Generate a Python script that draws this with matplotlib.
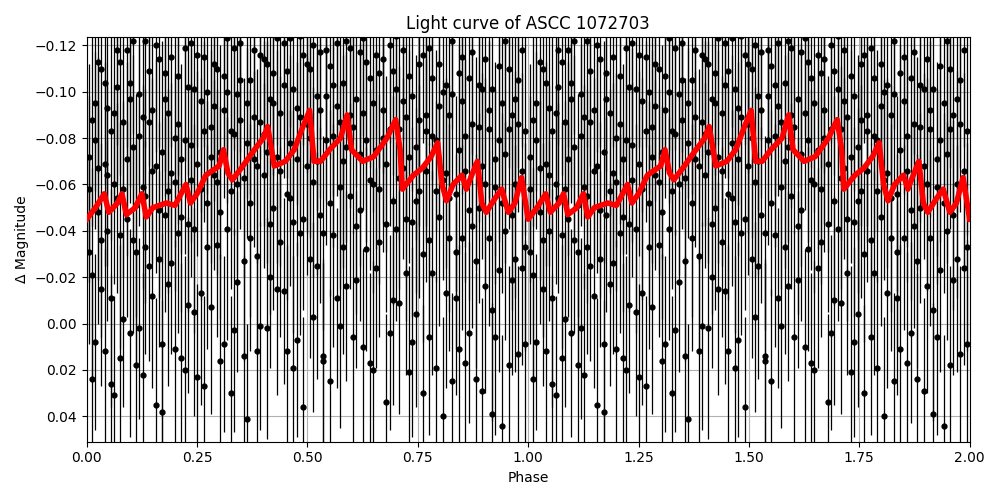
import matplotlib
matplotlib.use("Agg")
import matplotlib.pyplot as plt
import numpy as np

# -- Observations, one phase cycle (shown twice: phase and phase + 1)
obs_phase = [0.005, 0.012, 0.018, 0.026, 0.033, 0.041, 0.047, 0.055, 0.062, 0.068,
             0.076, 0.083, 0.091, 0.098, 0.104, 0.112, 0.119, 0.127, 0.133, 0.141,
             0.148, 0.156, 0.163, 0.171, 0.177, 0.185, 0.192, 0.199, 0.207, 0.214,
             0.222, 0.229, 0.236, 0.244, 0.251, 0.258, 0.266, 0.273, 0.281, 0.288,
             0.296, 0.303, 0.311, 0.318, 0.326, 0.333, 0.341, 0.348, 0.356, 0.363,
             0.371, 0.378, 0.386, 0.393, 0.401, 0.408, 0.416, 0.423, 0.431, 0.438,
             0.446, 0.453, 0.461, 0.468, 0.476, 0.483, 0.491, 0.498, 0.506, 0.513,
             0.521, 0.528, 0.536, 0.543, 0.551, 0.558, 0.566, 0.573, 0.581, 0.588,
             0.596, 0.603, 0.611, 0.618, 0.626, 0.633, 0.641, 0.648, 0.656, 0.663,
             0.671, 0.678, 0.686, 0.693, 0.701, 0.708, 0.716, 0.723, 0.731, 0.738,
             0.746, 0.753, 0.761, 0.768, 0.776, 0.783, 0.791, 0.798, 0.806, 0.813,
             0.821, 0.828, 0.836, 0.843, 0.851, 0.858, 0.866, 0.873, 0.881, 0.888,
             0.896, 0.903, 0.911, 0.918, 0.926, 0.933, 0.941, 0.948, 0.956, 0.963,
             0.971, 0.978, 0.986, 0.993]
# three nights of magnitudes at the same phases
night_a = [-0.072, -0.021, -0.095, -0.048, -0.110, 0.012, -0.064, -0.083, 0.031, -0.102,
           -0.038, -0.058, -0.118, 0.004, -0.076, -0.031, -0.099, 0.022, -0.055, -0.087,
           -0.012, -0.068, -0.114, 0.038, -0.047, -0.091, -0.026, -0.061, -0.107, 0.015,
           -0.079, -0.043, -0.121, -0.005, -0.069, -0.096, 0.027, -0.052, -0.085, -0.112,
           -0.034, -0.074, 0.009, -0.100, -0.057, -0.119, -0.018, -0.088, -0.063, 0.041,
           -0.105, -0.071, -0.029, -0.116, -0.082, 0.002, -0.097, -0.050, -0.123, -0.066,
           -0.014, -0.109, -0.078, 0.019, -0.093, -0.124, -0.045, -0.086, -0.110, -0.003,
           -0.070, -0.117, -0.039, -0.098, 0.025, -0.081, -0.121, -0.059, -0.104, -0.016,
           -0.090, -0.125, -0.042, -0.073, 0.010, -0.113, -0.062, -0.095, -0.024, -0.108,
           -0.080, 0.034, -0.120, -0.053, -0.101, -0.009, -0.067, -0.089, 0.021, -0.044,
           -0.076, -0.112, -0.030, -0.083, 0.006, -0.106, -0.057, -0.094, 0.040, -0.065,
           -0.037, -0.099, -0.011, -0.075, -0.115, 0.017, -0.049, -0.086, -0.027, -0.103,
           0.029, -0.060, -0.092, -0.006, -0.071, -0.111, 0.044, -0.040, -0.084, -0.019,
           -0.097, 0.013, -0.066, -0.033]
night_b = [-0.031, -0.088, 0.008, -0.067, -0.015, -0.104, -0.040, 0.026, -0.091, -0.054,
           -0.113, -0.002, -0.071, -0.097, -0.036, 0.018, -0.081, -0.059, -0.122, -0.025,
           -0.092, 0.035, -0.049, -0.074, -0.108, -0.017, -0.065, 0.011, -0.086, -0.046,
           -0.119, -0.008, -0.077, -0.101, 0.023, -0.058, -0.115, -0.033, -0.072, -0.094,
           -0.061, 0.016, -0.107, -0.041, -0.083, 0.003, -0.099, -0.121, -0.027, -0.078,
           -0.052, -0.118, 0.012, -0.087, -0.064, -0.112, -0.020, -0.095, -0.072, -0.035,
           -0.103, -0.056, -0.123, -0.044, 0.007, -0.089, -0.116, -0.068, -0.028, -0.120,
           -0.098, -0.047, 0.014, -0.079, -0.111, -0.038, -0.094, 0.001, -0.070, -0.122,
           -0.055, -0.085, -0.019, -0.117, -0.091, -0.032, -0.106, 0.020, -0.075, -0.058,
           -0.114, -0.043, -0.084, -0.010, -0.124, -0.063, -0.096, -0.045, -0.107, 0.008,
           -0.053, -0.088, 0.030, -0.066, -0.119, -0.022, -0.079, -0.046, -0.100, -0.013,
           -0.090, 0.025, -0.056, -0.108, -0.037, -0.081, 0.004, -0.117, -0.069, -0.050,
           -0.101, -0.016, -0.084, 0.039, -0.059, -0.023, -0.095, -0.073, -0.110, -0.047,
           -0.028, -0.086, -0.118, 0.009]
night_c = [-0.058, 0.024, -0.079, -0.113, -0.036, -0.069, -0.093, -0.011, -0.060, -0.118,
           0.015, -0.087, -0.045, -0.104, -0.122, -0.051, 0.002, -0.089, -0.033, -0.109,
           -0.066, -0.120, -0.028, 0.009, -0.097, -0.057, -0.115, -0.080, -0.039, -0.071,
           0.020, -0.102, -0.062, -0.041, -0.116, -0.013, -0.083, -0.100, -0.007, -0.064,
           -0.110, -0.048, -0.092, -0.123, 0.030, -0.082, -0.060, -0.105, 0.014, -0.095,
           -0.037, -0.089, -0.068, 0.001, -0.114, -0.074, -0.043, -0.108, -0.015, -0.091,
           -0.121, 0.012, -0.054, -0.101, -0.071, -0.039, 0.036, -0.112, -0.080, -0.061,
           -0.025, -0.092, 0.016, -0.118, -0.052, -0.103, -0.011, -0.087, -0.033, -0.076,
           -0.119, 0.006, -0.097, -0.049, -0.123, -0.079, 0.017, -0.060, -0.116, -0.035,
           -0.092, -0.069, 0.004, -0.109, -0.041, -0.084, -0.118, -0.022, -0.072, -0.098,
           -0.004, -0.057, -0.116, -0.090, -0.036, -0.081, 0.019, -0.112, -0.062, -0.103,
           -0.054, -0.122, -0.031, 0.011, -0.096, -0.066, -0.106, -0.042, 0.024, -0.085,
           -0.068, -0.114, -0.037, -0.101, 0.006, -0.079, -0.052, -0.122, 0.018, -0.090,
           -0.060, -0.105, -0.024, -0.083]
obs_err = [0.040, 0.046, 0.038, 0.048, 0.042, 0.044, 0.039, 0.047, 0.043, 0.041,
           0.049, 0.038, 0.042, 0.045, 0.040, 0.048, 0.039, 0.044, 0.046, 0.041]

# -- Model curve, one cycle
model_phase = [0.00, 0.02, 0.04, 0.05, 0.07, 0.08, 0.09, 0.11, 0.125, 0.135,
               0.15, 0.18, 0.20, 0.225, 0.235, 0.25, 0.27, 0.30, 0.31, 0.32,
               0.33, 0.35, 0.38, 0.40, 0.41, 0.425, 0.45, 0.47, 0.49, 0.505,
               0.515, 0.53, 0.55, 0.575, 0.59, 0.60, 0.625, 0.65, 0.68, 0.70,
               0.71, 0.715, 0.74, 0.76, 0.78, 0.795, 0.805, 0.815, 0.83, 0.85,
               0.86, 0.87, 0.885, 0.895, 0.905, 0.925, 0.94, 0.955, 0.97, 0.985, 1.0]
model_mag = [-0.045, -0.050, -0.056, -0.048, -0.052, -0.056, -0.047, -0.050, -0.056, -0.046,
             -0.050, -0.052, -0.051, -0.060, -0.052, -0.056, -0.064, -0.068, -0.075, -0.065,
             -0.062, -0.067, -0.075, -0.080, -0.085, -0.068, -0.070, -0.075, -0.085, -0.092,
             -0.070, -0.070, -0.075, -0.080, -0.090, -0.075, -0.070, -0.072, -0.080, -0.088,
             -0.075, -0.058, -0.064, -0.067, -0.072, -0.078, -0.060, -0.053, -0.060, -0.064,
             -0.058, -0.063, -0.070, -0.052, -0.048, -0.054, -0.058, -0.048, -0.052, -0.063, -0.045]

n = len(obs_phase)
err = [obs_err[i % len(obs_err)] for i in range(n)]

fig, ax = plt.subplots(figsize=(10, 5), dpi=100)
for night in (night_a, night_b, night_c):
    for shift in (0, 1):
        ax.errorbar(np.array(obs_phase) + shift, night, yerr=err, fmt="o",
                    color="black", ms=3.5, lw=0.9, zorder=2)
mx = np.concatenate([model_phase, np.array(model_phase[1:]) + 1])
my = np.concatenate([model_mag, model_mag[1:]])
ax.plot(mx, my, color="red", lw=4, zorder=3)
ax.set_xlim(0, 2)
ax.set_ylim(0.051, -0.1235)
ax.set_yticks([-0.12, -0.10, -0.08, -0.06, -0.04, -0.02, 0.00, 0.02, 0.04])
ax.grid(True)
ax.set_xlabel("Phase")
ax.set_ylabel("Δ Magnitude")
ax.set_title("Light curve of ASCC 1072703")
fig.tight_layout()
fig.savefig("out.png")
